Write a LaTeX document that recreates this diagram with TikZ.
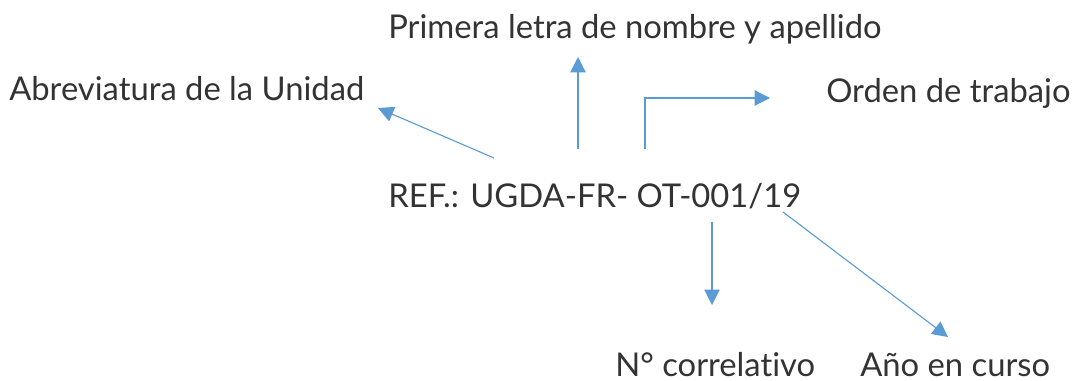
\documentclass[tikz,border=0pt]{standalone}
\usepackage{fontspec}
\setmainfont{Lato}[Ligatures=NoCommon]
\usepackage{tikz}
\usetikzlibrary{arrows.meta}
\definecolor{flecha}{HTML}{5B9BD5}
\definecolor{texto}{HTML}{333333}

\tikzset{
  rotulo/.style={anchor=base west, inner sep=0pt, text=texto, font=\fontsize{23.3}{27}\selectfont},
  flechita/.style={draw=flecha, line width=0.8pt, -{Triangle[length=11pt, width=11pt]}}
}

\begin{document}
\begin{tikzpicture}[x=0.025cm, y=-0.025cm]
\useasboundingbox (0, 0) rectangle (1072, 381);
\node[rotulo] (ref) at (388, 207) {REF.: UGDA-FR- OT-001/19};
\node[rotulo] (inicial) at (388, 39) {Primera letra de nombre y apellido};
\node[rotulo] (unidad) at (9, 100) {Abreviatura de la Unidad};
\node[rotulo] (orden) at (826, 103) {Orden de trabajo};
\node[rotulo] (correl) at (615, 376) {N° correlativo};
\node[rotulo] (anio) at (860, 376) {Año en curso};
\coordinate (a1) at (494, 158);
\coordinate (b1) at (378, 108);
\coordinate (a2) at (578, 149);
\coordinate (b2) at (578, 57);
\coordinate (a3) at (645, 149);
\coordinate (b3) at (770, 98);
\coordinate (a4) at (712, 222);
\coordinate (b4) at (712, 305);
\coordinate (a5) at (783, 212);
\coordinate (b5) at (948, 337);
\draw[flechita] (a1) -- (b1);
\draw[flechita] (a2) -- (b2);
\draw[flechita] (a3) |- (b3);
\draw[flechita] (a4) -- (b4);
\draw[flechita] (a5) -- (b5);
\end{tikzpicture}
\end{document}
